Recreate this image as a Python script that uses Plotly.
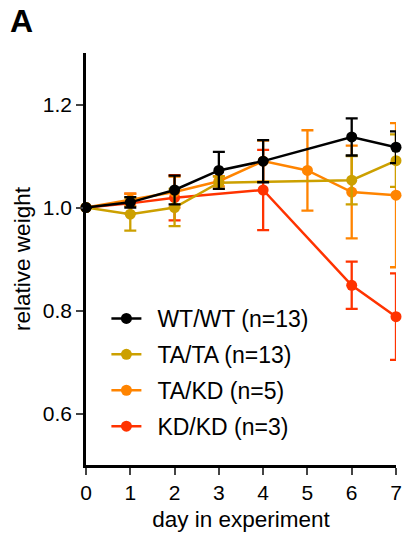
import plotly.graph_objects as go

# Data
wt_days = [0, 1, 2, 3, 4, 6, 7]
wt_mean = [1.0, 1.010, 1.034, 1.072, 1.090, 1.137, 1.117]
wt_sem = [0, 0.010, 0.028, 0.036, 0.041, 0.036, 0.031]

ta_days = [0, 1, 2, 3, 6, 7]
ta_mean = [1.0, 0.987, 1.0, 1.048, 1.053, 1.091]
ta_sem = [0, 0.032, 0.036, 0.012, 0.047, 0.051]

takd_days = [0, 1, 2, 3, 4, 5, 6, 7]
takd_mean = [1.0, 1.015, 1.030, 1.051, 1.090, 1.072, 1.030, 1.024]
takd_sem = [0, 0.012, 0.030, 0.010, 0.040, 0.078, 0.090, 0.140]

kd_days = [0, 1, 2, 4, 6, 7]
kd_mean = [1.0, 1.008, 1.019, 1.034, 0.849, 0.788]
kd_sem = [0, 0.019, 0.044, 0.078, 0.046, 0.084]

series = [
    ("KD/KD (n=3)", kd_days, kd_mean, kd_sem, "#FF3300", 4),
    ("TA/KD (n=5)", takd_days, takd_mean, takd_sem, "#FF8400", 3),
    ("TA/TA (n=13)", ta_days, ta_mean, ta_sem, "#CCA000", 2),
    ("WT/WT (n=13)", wt_days, wt_mean, wt_sem, "#000000", 1),
]

x_ticks = [0, 1, 2, 3, 4, 5, 6, 7]
y_ticks = [0.6, 0.8, 1.0, 1.2]

FONT = "Liberation Sans, Arial, Helvetica, sans-serif"
L, R, T, B = 86, 12, 53, 76
W, H = 408, 541
PW, PH = W - L - R, H - T - B

fig = go.Figure()
for name, d, m, s, c, rank in series:
    fig.add_trace(go.Scatter(
        x=d, y=m, name="\u00a0\u2009" + name, mode="lines+markers",
        line=dict(color=c, width=2.5),
        marker=dict(color=c, size=11),
        error_y=dict(type="data", array=s, visible=True, color=c, thickness=2.3, width=6),
        legendrank=rank, legendgroup=name, cliponaxis=False,
    ))

fig.update_layout(
    width=W, height=H,
    margin=dict(l=L, r=R, t=T, b=B),
    plot_bgcolor="white", paper_bgcolor="white",
    font=dict(family=FONT, size=21, color="black"),
    showlegend=True,
    legend=dict(x=20.4 / PW, y=1 - (297 - T) / PH, xanchor="left", yanchor="top",
                bgcolor="rgba(0,0,0,0)", font=dict(size=23),
                tracegroupgap=3, itemwidth=30),
    xaxis=dict(range=[0, 7], tickvals=x_ticks, ticks="outside", ticklen=7, tickwidth=2,
               showline=True, linewidth=2.5, linecolor="black", showgrid=False, zeroline=False,
               automargin=False,
               title=dict(text="day in experiment", standoff=9, font=dict(size=22.5)),
               tickfont=dict(size=21)),
    yaxis=dict(range=[0.5, 1.3], tickvals=y_ticks, ticktext=["0.6", "0.8", "1.0", "1.2"],
               ticks="outside", ticklen=7, tickwidth=2,
               showline=True, linewidth=2.5, linecolor="black", showgrid=False, zeroline=False,
               automargin=False,
               title=dict(text="relative weight", standoff=6, font=dict(size=22.5)),
               tickfont=dict(size=21)),
    annotations=[dict(text="<b>A</b>", x=(21.5 - L) / PW, y=1 + (T - 21.5) / PH,
                      xref="paper", yref="paper",
                      xanchor="center", yanchor="middle", showarrow=False,
                      font=dict(size=32, family=FONT))],
)

fig.write_html("out.html",
               config={"displayModeBar": False},
               post_script="document.body.style.margin='0';document.body.style.padding='0';")
